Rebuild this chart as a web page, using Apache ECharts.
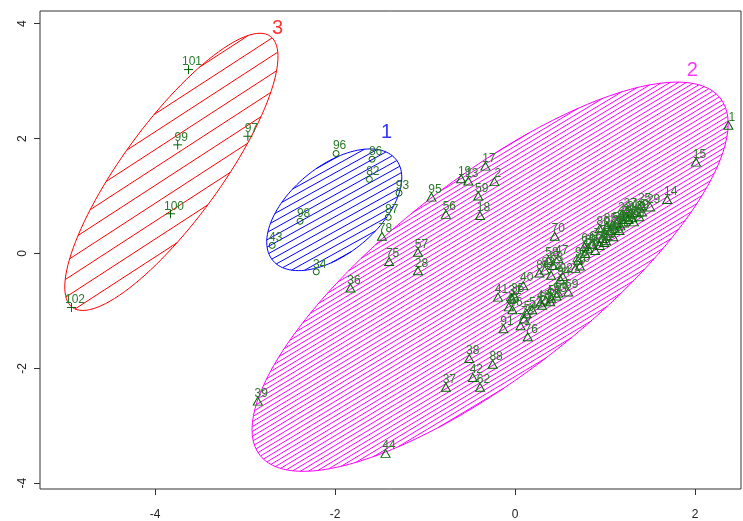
<!DOCTYPE html>
<html>
<head>
<meta charset="utf-8">
<script src="https://cdn.jsdelivr.net/npm/echarts@6/dist/echarts.min.js"></script>
<style>
	html, body { margin: 0; padding: 0; background: #fff; }
	#chart { width: 743px; height: 521px; }
</style>
</head>
<body>
<div id="chart"></div>
<script>
	// axis ranges and ticks
	var xRange = [-5.28, 2.51];
	var yRange = [-4.10, 4.22];
	var xTicks = [-4, -2, 0, 2];
	var yTicks = [-4, -2, 0, 2, 4];

	// cluster 1 (circles)
	var clusterOne = [
		[-1.99, 1.74, '96'], [-1.59, 1.64, '86'], [-1.62, 1.29, '82'], [-1.29, 1.05, '93'],
		[-2.39, 0.56, '98'], [-1.41, 0.63, '87'], [-2.70, 0.14, '43'], [-2.21, -0.32, '34']
	];

	// cluster 3 (plus)
	var clusterThree = [
		[-3.63, 3.20, '101'], [-3.75, 1.89, '99'], [-2.97, 2.04, '97'],
		[-3.83, 0.69, '100'], [-4.93, -0.94, '102']
	];

	// cluster 2 (triangles)
	var clusterTwo = [
		[2.37, 2.23, '1'], [2.01, 1.59, '15'], [1.69, 0.94, '14'], [0.44, 0.30, '70'],
		[-0.23, 1.25, '2'], [-0.33, 1.52, '17'], [-0.60, 1.30, '19'], [-0.52, 1.26, '13'],
		[-0.41, 1.00, '59'], [-0.39, 0.66, '18'], [-0.93, 0.98, '95'], [-0.77, 0.68, '56'],
		[-1.48, 0.30, '78'], [-1.40, -0.14, '75'], [-1.08, 0.02, '57'], [-1.08, -0.30, '28'],
		[-1.83, -0.60, '36'], [-2.86, -2.57, '39'], [-1.44, -3.48, '44'], [-0.77, -2.33, '37'],
		[-0.47, -2.16, '42'], [-0.39, -2.33, '62'], [-0.51, -1.83, '38'], [-0.25, -1.93, '88'],
		[-0.19, -0.76, '41'], [0.09, -0.56, '40'], [-0.13, -1.31, '91'], [0.06, -1.26, '79'],
		[0.10, -1.14, '73'], [0.14, -1.45, '76'], [0.59, -0.67, '69'], [0.48, -0.69, '66'],
		[-0.04, -0.78, '31'], [-0.01, -0.74, '35'], [-0.07, -0.93, '45'], [-0.03, -0.98, '46'],
		[0.13, -1.05, '54'], [0.19, -0.98, '52'], [0.28, -0.86, '48'], [0.34, -0.81, '4'],
		[0.40, -0.78, '50'], [0.39, -0.84, '55'], [0.46, -0.74, '53'], [0.30, -0.90, '61'],
		[0.27, -0.34, '84'], [0.33, -0.29, '83'], [0.37, -0.12, '58'], [0.48, -0.09, '47'],
		[0.42, -0.21, '68'], [0.50, -0.45, '94'], [0.53, -0.40, '92'], [0.40, -0.38, '74'],
		[0.67, -0.26, '49'], [0.72, -0.22, '20'], [0.70, -0.12, '90'], [0.78, 0.00, '60'],
		[0.81, 0.09, '63'], [0.77, 0.12, '64'], [0.86, 0.16, '65'], [0.89, 0.05, '67'],
		[0.91, 0.21, '71'], [0.94, 0.14, '72'], [0.97, 0.26, '77'], [0.99, 0.19, '81'],
		[1.02, 0.31, '89'], [0.94, 0.43, '80'], [1.02, 0.47, '85'], [1.06, 0.40, '3'],
		[1.08, 0.50, '5'], [1.11, 0.43, '7'], [1.13, 0.53, '8'], [1.17, 0.48, '10'],
		[1.19, 0.59, '11'], [1.21, 0.53, '12'], [1.23, 0.64, '21'], [1.18, 0.67, '22'],
		[1.26, 0.59, '23'], [1.28, 0.69, '24'], [1.30, 0.62, '26'], [1.24, 0.74, '27'],
		[1.34, 0.71, '16'], [1.38, 0.64, '6'], [1.41, 0.72, '9'], [1.40, 0.83, '25'],
		[1.50, 0.81, '29'], [1.32, 0.55, '30'], [1.16, 0.40, '32'], [1.09, 0.29, '33'],
		[1.01, 0.22, '51']
	];

	// ellipses: centre, major and minor semi-axis vectors (data units)
	var clusterNames   = ['1', '2', '3'];
	var ellipseCenters = [[-2.01, 0.76], [-0.278, -0.405], [-3.82, 1.42]];
	var ellipseMajor   = [[0.681, 0.886], [2.557, 3.110], [1.100, 2.360]];
	var ellipseMinor   = [[0.315, -0.580], [0.679, -1.343], [0.440, -0.500]];
	var clusterLabelAt = [[-1.43, 2.10], [1.97, 3.19], [-2.64, 3.91]];

	var clusterColors = ['#0000ff', '#ff00ff', '#ff0000'];
	var hatchAngle    = [29, 31, 33];
	var hatchGap      = [6.4, 4.2, 15];

	var PT_COLOR  = '#006400';
	var TXT_COLOR = '#2a7a2a';
	var FONT = '"Liberation Sans", Arial, sans-serif';

	function hatch(pts, angleDeg, gap, color) {
		var a = angleDeg * Math.PI / 180;
		var nx = Math.sin(a), ny = Math.cos(a);
		var s = pts.map(function (p) { return p[0] * nx + p[1] * ny; });
		var lo = Math.min.apply(null, s), hi = Math.max.apply(null, s);
		var out = [];
		for (var t = Math.ceil(lo / gap) * gap; t < hi; t += gap) {
			var hits = [];
			for (var i = 0; i < pts.length; i++) {
				var j = (i + 1) % pts.length;
				var si = s[i] - t, sj = s[j] - t;
				if ((si < 0 && sj >= 0) || (si >= 0 && sj < 0)) {
					var f = si / (si - sj);
					hits.push([pts[i][0] + f * (pts[j][0] - pts[i][0]), pts[i][1] + f * (pts[j][1] - pts[i][1])]);
				}
			}
			if (hits.length >= 2) {
				out.push({
					type: 'line',
					shape: { x1: hits[0][0], y1: hits[0][1], x2: hits[1][0], y2: hits[1][1] },
					style: { stroke: color, lineWidth: 1 }
				});
			}
		}
		return out;
	}

	function renderEllipse(params, api) {
		var i = params.dataIndex;
		var c = ellipseCenters[i], u = ellipseMajor[i], v = ellipseMinor[i];
		var pts = [];
		for (var k = 0; k < 120; k++) {
			var th = 2 * Math.PI * k / 120;
			var co = Math.cos(th), si = Math.sin(th);
			pts.push(api.coord([c[0] + co * u[0] + si * v[0], c[1] + co * u[1] + si * v[1]]));
		}
		var children = hatch(pts, hatchAngle[i], hatchGap[i], clusterColors[i]);
		children.push({
			type: 'polygon',
			shape: { points: pts },
			style: { fill: 'none', stroke: clusterColors[i], lineWidth: 1 }
		});
		return { type: 'group', children: children };
	}

	// label sits a little up and right of its mark
	function pointSeries(data, symbol, w, h) {
		return {
			type: 'scatter',
			data: data,
			symbol: symbol,
			symbolSize: [w, h],
			itemStyle: { color: 'transparent', borderColor: PT_COLOR, borderWidth: 1, opacity: 1 },
			label: {
				show: true,
				position: [w / 2 + 4, h / 2 - 7],
				align: 'center', verticalAlign: 'middle',
				formatter: function (p) { return p.data[2]; },
				color: TXT_COLOR, fontSize: 12, fontFamily: FONT
			},
			labelLayout: { hideOverlap: false },
			z: 3
		};
	}

	var chart = echarts.init(document.getElementById('chart'));

	chart.setOption({
		animation: false,
		backgroundColor: '#fff',
		grid: { left: 40, right: 2, top: 11, bottom: 28, show: true, borderColor: '#333', borderWidth: 1 },
		xAxis: {
			type: 'value', min: xRange[0], max: xRange[1],
			splitLine: { show: false },
			axisLine: { show: false, onZero: false },
			axisTick: { show: true, customValues: xTicks, length: 6, lineStyle: { color: '#333' } },
			axisLabel: { customValues: xTicks, margin: 20, color: '#222', fontSize: 12, fontFamily: FONT }
		},
		yAxis: {
			type: 'value', min: yRange[0], max: yRange[1],
			splitLine: { show: false },
			axisLine: { show: false, onZero: false },
			axisTick: { show: true, customValues: yTicks, length: 6, lineStyle: { color: '#333' } },
			axisLabel: { customValues: yTicks, margin: 11, rotate: 90, color: '#222', fontSize: 12, fontFamily: FONT }
		},
		series: [
			{
				type: 'custom',
				renderItem: renderEllipse,
				data: ellipseCenters.map(function (c) { return [c[0], c[1]]; }),
				encode: { x: 0, y: 1 },
				clip: true,
				silent: true,
				z: 1
			},
			pointSeries(clusterTwo, 'triangle', 9, 8),
			pointSeries(clusterOne, 'circle', 6, 6),
			pointSeries(clusterThree, 'path://M0,5L10,5M5,0L5,10', 9, 9),
			{
				type: 'scatter',
				data: clusterLabelAt.map(function (p, i) {
					return { value: [p[0], p[1], clusterNames[i]], label: { color: clusterColors[i] } };
				}),
				symbolSize: 0,
				label: {
					show: true, position: 'inside',
					formatter: function (p) { return p.value[2]; },
					fontSize: 20, fontFamily: FONT
				},
				labelLayout: { hideOverlap: false },
				z: 4
			}
		]
	});
</script>
</body>
</html>
